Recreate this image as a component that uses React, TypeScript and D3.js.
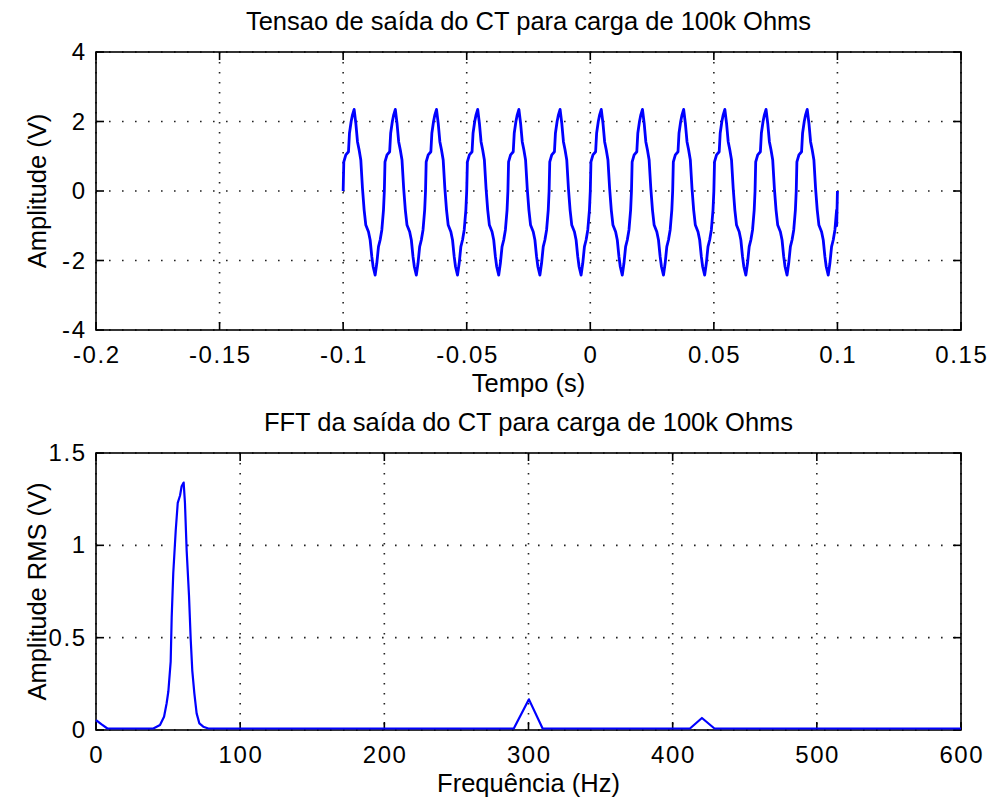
import * as d3 from "d3";
import { useEffect, useRef } from "react";

const WIDTH = 988;
const HEIGHT = 803;

// one period of the CT output voltage (ms into the cycle, volts)
const cycleMs = [0, 0.27, 1.08, 2.16, 2.56, 3.24, 3.78, 4.45, 5.13, 5.8, 6.47, 7.15, 7.82, 8.5, 9.17, 10.25, 10.93, 11.6, 12.14, 12.95, 13.62, 14.3, 14.97, 15.65, 16.32];
const cycleV = [0, 0.84, 1.04, 1.13, 1.66, 2.0, 2.19, 2.35, 1.95, 1.42, 1.18, 0.89, 0.08, -0.55, -0.98, -1.17, -1.41, -1.89, -2.18, -2.42, -2.08, -1.6, -1.41, -1.12, -0.55];
const PERIOD_MS = 1000 / 60;
const N_CYCLES = 12;
const T_START = -0.1;

// FFT magnitude (Hz, V rms)
const fftHz = [0, 3.9, 7.9, 39.8, 44.4, 47.2, 49, 50.2, 51.8, 52.5, 53.6, 55.3, 56.7, 58.3, 59.4, 60.8, 61.7, 62.9, 64.5, 65.7, 66.8, 68.2, 69.8, 71.7, 74.4, 77.9, 289.8, 300.3, 309.8, 412, 420.3, 429, 600];
const fftRms = [0.054, 0.03, 0.008, 0.008, 0.027, 0.072, 0.145, 0.21, 0.37, 0.61, 0.85, 1.08, 1.23, 1.27, 1.32, 1.34, 1.23, 0.97, 0.73, 0.49, 0.32, 0.2, 0.09, 0.036, 0.018, 0.008, 0.008, 0.166, 0.008, 0.008, 0.065, 0.008, 0.008];

const topXTicks = [-0.2, -0.15, -0.1, -0.05, 0, 0.05, 0.1, 0.15];
const topYTicks = [-4, -2, 0, 2, 4];
const botXTicks = [0, 100, 200, 300, 400, 500, 600];
const botYTicks = [0, 0.5, 1, 1.5];

const FONT = "'Liberation Sans', Arial, sans-serif";
const FS_LABEL = 25.5;
const FS_TICK = 24;
const TICK_LS = 1.6;
const BLUE = "#0000ff";

type Box = { left: number; right: number; top: number; bottom: number };
type Sel = d3.Selection<SVGGElement, unknown, null, undefined>;

function addText(g: Sel, x: number, y: number, txt: string, anchor: string, size: number, ls = 0, rotate = 0) {
  const t = g.append("text")
    .attr("transform", `translate(${x},${y})${rotate ? ` rotate(${rotate})` : ""}`)
    .attr("text-anchor", anchor)
    .style("font-family", FONT)
    .style("font-size", `${size}px`)
    .text(txt);
  if (ls) t.style("letter-spacing", `${ls}px`);
  return t;
}

function renderAxes(
  svg: d3.Selection<SVGSVGElement, unknown, null, undefined>,
  box: Box,
  x: d3.ScaleLinear<number, number>,
  y: d3.ScaleLinear<number, number>,
  xTicks: number[],
  yTicks: number[],
  title: string,
  xLabel: string,
  yLabel: string
) {
  const g = svg.append("g");

  // dotted grid
  xTicks.forEach((t) => {
    g.append("line")
      .attr("x1", x(t)).attr("x2", x(t))
      .attr("y1", box.top).attr("y2", box.bottom)
      .attr("stroke", "#222").attr("stroke-width", 1.6)
      .attr("stroke-dasharray", "1.6,8.4");
  });
  yTicks.forEach((t) => {
    g.append("line")
      .attr("x1", box.left).attr("x2", box.right)
      .attr("y1", y(t)).attr("y2", y(t))
      .attr("stroke", "#222").attr("stroke-width", 1.6)
      .attr("stroke-dasharray", "1.6,11.4");
  });

  // frame
  g.append("rect")
    .attr("x", box.left).attr("y", box.top)
    .attr("width", box.right - box.left).attr("height", box.bottom - box.top)
    .attr("fill", "none").attr("stroke", "#000").attr("stroke-width", 1.6);

  // inward ticks on all four sides
  const tl = 8;
  xTicks.forEach((t) => {
    g.append("line").attr("x1", x(t)).attr("x2", x(t))
      .attr("y1", box.bottom).attr("y2", box.bottom - tl)
      .attr("stroke", "#000").attr("stroke-width", 1.6);
    g.append("line").attr("x1", x(t)).attr("x2", x(t))
      .attr("y1", box.top).attr("y2", box.top + tl)
      .attr("stroke", "#000").attr("stroke-width", 1.6);
    addText(g, x(t) + TICK_LS / 2, box.bottom + 33, String(t), "middle", FS_TICK, TICK_LS);
  });
  yTicks.forEach((t) => {
    g.append("line").attr("x1", box.left).attr("x2", box.left + tl)
      .attr("y1", y(t)).attr("y2", y(t))
      .attr("stroke", "#000").attr("stroke-width", 1.6);
    g.append("line").attr("x1", box.right).attr("x2", box.right - tl)
      .attr("y1", y(t)).attr("y2", y(t))
      .attr("stroke", "#000").attr("stroke-width", 1.6);
    addText(g, box.left - 11 + TICK_LS, y(t) + 8, String(t), "end", FS_TICK, TICK_LS);
  });

  const cx = (box.left + box.right) / 2;
  const cy = (box.top + box.bottom) / 2;

  addText(g, cx, box.top - 22, title, "middle", FS_LABEL);
  addText(g, cx, box.bottom + 62, xLabel, "middle", FS_LABEL);
  addText(g, 46, cy, yLabel, "middle", FS_LABEL, 0, -90);
}

function renderLine(
  svg: d3.Selection<SVGSVGElement, unknown, null, undefined>,
  data: [number, number][],
  x: d3.ScaleLinear<number, number>,
  y: d3.ScaleLinear<number, number>,
  width: number
) {
  const line = d3.line<[number, number]>()
    .x((d) => x(d[0]))
    .y((d) => y(d[1]));
  svg.append("path")
    .datum(data)
    .attr("d", line)
    .attr("fill", "none")
    .attr("stroke", BLUE)
    .attr("stroke-width", width)
    .attr("stroke-linejoin", "round");
}

const App = () => {
  const svgRef = useRef<SVGSVGElement | null>(null);

  useEffect(() => {
    if (!svgRef.current) return;
    const svg = d3.select(svgRef.current);
    svg.selectAll("*").remove();

    svg.append("rect").attr("width", WIDTH).attr("height", HEIGHT).attr("fill", "#fff");

    // top: time signal
    const topBox = { left: 96, right: 961, top: 52, bottom: 330 };
    const xTop = d3.scaleLinear().domain([-0.2, 0.15]).range([topBox.left, topBox.right]);
    const yTop = d3.scaleLinear().domain([-4, 4]).range([topBox.bottom, topBox.top]);
    renderAxes(svg, topBox, xTop, yTop, topXTicks, topYTicks,
      "Tensao de saída do CT para carga de 100k Ohms", "Tempo (s)", "Amplitude (V)");

    // the same read-off period repeated over the 0.2 s window
    const wave: [number, number][] = [];
    for (let c = 0; c < N_CYCLES; c++) {
      cycleMs.forEach((ms, i) => {
        wave.push([T_START + (c * PERIOD_MS + ms) / 1000, cycleV[i]]);
      });
    }
    wave.push([T_START + (N_CYCLES * PERIOD_MS - 0.3) / 1000, -1.0]);
    wave.push([T_START + (N_CYCLES * PERIOD_MS) / 1000, 0]);
    renderLine(svg, wave, xTop, yTop, 2.8);

    // bottom: FFT
    const botBox = { left: 96, right: 961, top: 453, bottom: 730 };
    const xBot = d3.scaleLinear().domain([0, 600]).range([botBox.left, botBox.right]);
    const yBot = d3.scaleLinear().domain([0, 1.5]).range([botBox.bottom, botBox.top]);
    renderAxes(svg, botBox, xBot, yBot, botXTicks, botYTicks,
      "FFT da saída do CT para carga de 100k Ohms", "Frequência (Hz)", "Amplitude RMS (V)");
    renderLine(svg, fftHz.map((f, i) => [f, fftRms[i]] as [number, number]), xBot, yBot, 2.2);
  }, []);

  return (
    <svg
      ref={svgRef}
      width={WIDTH}
      height={HEIGHT}
      style={{ position: "absolute", left: 0, top: 0, display: "block" }}
    />
  );
};

export default App;
